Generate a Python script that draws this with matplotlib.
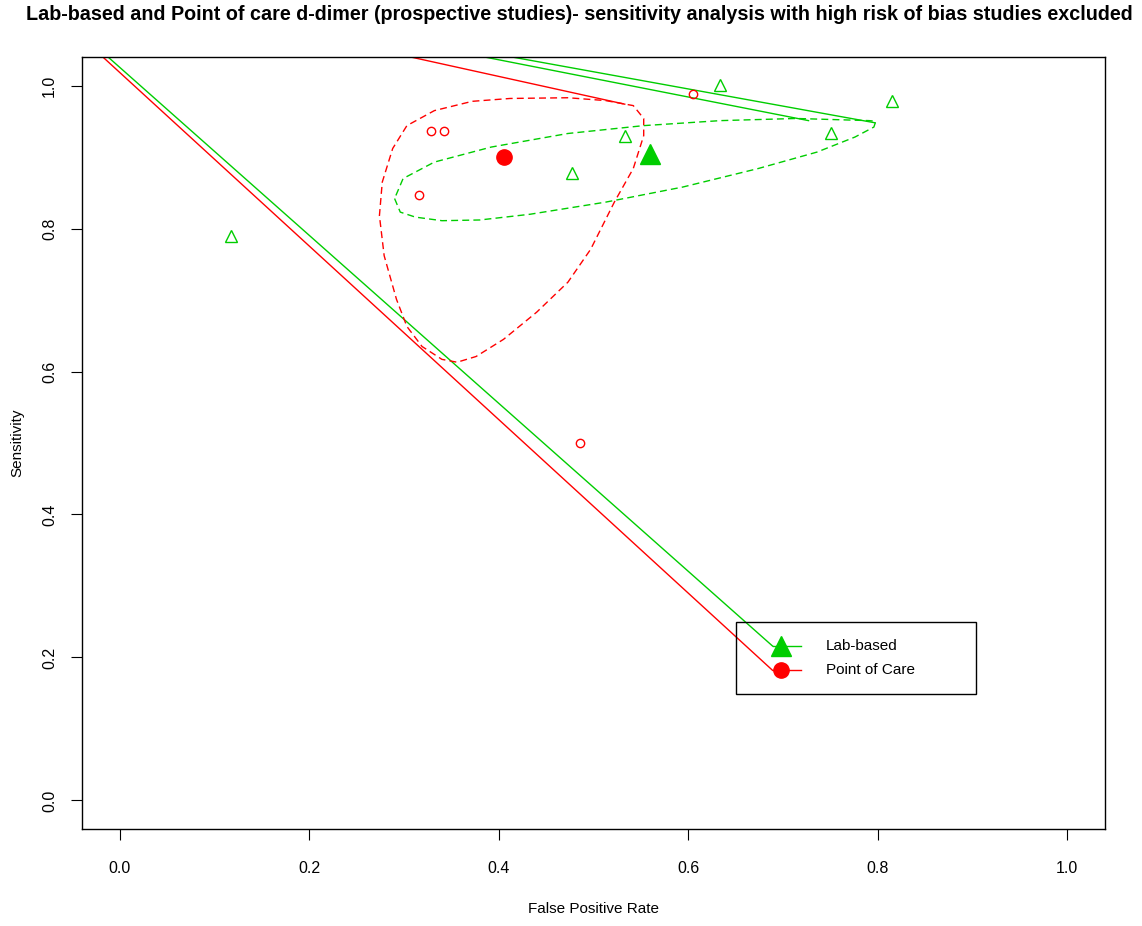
import matplotlib
matplotlib.use("Agg")
import matplotlib.pyplot as plt
from matplotlib.patches import Rectangle

plt.rcParams['font.family'] = ['Liberation Sans', 'DejaVu Sans']

GREEN = '#00CD00'
RED = '#FF0000'

# study-level points (false positive rate, sensitivity)
lab_fpr = [0.117, 0.477, 0.533, 0.634, 0.751, 0.815]
lab_sens = [0.790, 0.878, 0.930, 1.001, 0.934, 0.978]
poc_fpr = [0.316, 0.328, 0.342, 0.486, 0.605]
poc_sens = [0.847, 0.936, 0.936, 0.500, 0.988]

# summary estimates
lab_summary = (0.560, 0.904)
poc_summary = (0.406, 0.900)

# confidence regions
poc_region_fpr = [0.513, 0.542, 0.553, 0.553, 0.542, 0.522, 0.497, 0.473, 0.440, 0.405,
                  0.376, 0.356, 0.340, 0.319, 0.303, 0.292, 0.279, 0.274, 0.277, 0.288,
                  0.303, 0.332, 0.372, 0.412, 0.473, 0.513]
poc_region_sens = [0.979, 0.972, 0.954, 0.930, 0.884, 0.837, 0.771, 0.725, 0.683, 0.645,
                   0.621, 0.613, 0.617, 0.635, 0.663, 0.701, 0.762, 0.818, 0.865, 0.912,
                   0.944, 0.965, 0.978, 0.982, 0.983, 0.979]
lab_region_fpr = [0.290, 0.296, 0.312, 0.340, 0.380, 0.433, 0.513, 0.594, 0.674, 0.736,
                  0.776, 0.796, 0.798, 0.791, 0.714, 0.634, 0.553, 0.473, 0.392, 0.332,
                  0.299, 0.290]
lab_region_sens = [0.842, 0.823, 0.816, 0.811, 0.812, 0.820, 0.837, 0.858, 0.884, 0.907,
                   0.928, 0.942, 0.950, 0.951, 0.954, 0.951, 0.944, 0.933, 0.914, 0.893,
                   0.870, 0.842]

# SROC line segments
lab_sroc = [([-0.0125, 0.689], [1.040, 0.216]),
            ([0.385, 0.727], [1.040, 0.951]),
            ([0.414, 0.797], [1.040, 0.948])]
poc_sroc = [([-0.018, 0.689], [1.040, 0.182]),
            ([0.307, 0.533], [1.040, 0.974])]

W, H = 1142, 926
fig = plt.figure(figsize=(W / 100, H / 100), dpi=100)
ax = fig.add_axes([82 / W, 1 - 829 / H, 1023 / W, 772 / H])
ax.set_xlim(-0.04, 1.04)
ax.set_ylim(-0.04, 1.04)

for xs, ys in lab_sroc:
    ax.plot(xs, ys, color=GREEN, lw=1.0)
for xs, ys in poc_sroc:
    ax.plot(xs, ys, color=RED, lw=1.0)

ax.plot(poc_region_fpr, poc_region_sens, color=RED, lw=1.0, ls=(0, (5, 3)))
ax.plot(lab_region_fpr, lab_region_sens, color=GREEN, lw=1.0, ls=(0, (5, 3)))

ax.plot(lab_fpr, lab_sens, ls='none', marker='^', ms=9, mfc='none', mec=GREEN, mew=1.0)
ax.plot(poc_fpr, poc_sens, ls='none', marker='o', ms=6, mfc='none', mec=RED, mew=1.0)
ax.plot(*lab_summary, marker='^', ms=14, color=GREEN)
ax.plot(*poc_summary, marker='o', ms=11, color=RED)

# legend drawn by hand, R style
ax.add_patch(Rectangle((0.650, 0.149), 0.254, 0.100, fill=False, ec='black', lw=1.0, zorder=5))
for y, col, mk, ms in [(0.216, GREEN, '^', 14), (0.182, RED, 'o', 11)]:
    ax.plot([0.689, 0.719], [y, y], color=col, lw=1.0, zorder=6)
    ax.plot(0.698, y, marker=mk, ms=ms, color=col, zorder=6)
ax.text(0.745, 0.216, 'Lab-based', fontsize=11, va='center', zorder=6)
ax.text(0.745, 0.182, 'Point of Care', fontsize=11, va='center', zorder=6)

ticks = [0.0, 0.2, 0.4, 0.6, 0.8, 1.0]
ax.set_xticks(ticks)
ax.set_yticks(ticks)
ax.set_xticklabels([f'{t:.1f}' for t in ticks])
ax.set_yticklabels([f'{t:.1f}' for t in ticks], rotation=90, va='center')
ax.tick_params(direction='out', length=8, width=0.8, labelsize=11.5)
ax.tick_params(axis='x', pad=15)
ax.tick_params(axis='y', pad=10)
for s in ax.spines.values():
    s.set_linewidth(1.0)

fig.text(579 / W, 1 - 15 / H, 'Lab-based and Point of care d-dimer (prospective studies)- sensitivity analysis with high risk of bias studies excluded',
         ha='center', va='center', fontsize=14.2, fontweight='bold')
fig.text(593 / W, 1 - 909 / H, 'False Positive Rate', ha='center', va='center', fontsize=11)
fig.text(17 / W, 1 - 443 / H, 'Sensitivity', ha='center', va='center', rotation=90, fontsize=11)

fig.savefig('out.png', dpi=100)
